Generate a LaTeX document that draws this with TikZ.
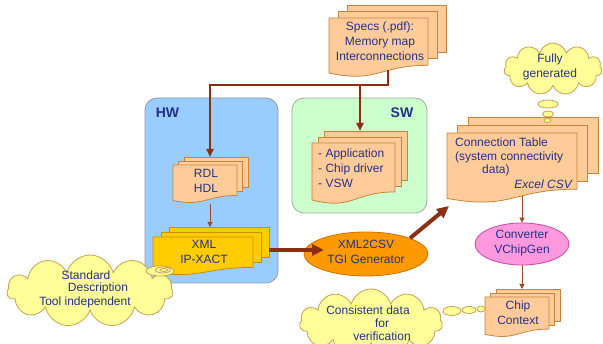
\documentclass[tikz,border=0pt]{standalone}
\usepackage{fontspec}
\setmainfont{Liberation Sans}
\usetikzlibrary{shapes.geometric,shapes.symbols,arrows.meta}
\definecolor{txtc}{HTML}{23308A}
\definecolor{docfill}{HTML}{FFCC99}
\definecolor{docline}{HTML}{C8843C}
\definecolor{xmlfill}{HTML}{FFCC00}
\definecolor{xmlline}{HTML}{D08C00}
\definecolor{hwfill}{HTML}{99CCFF}
\definecolor{hwline}{HTML}{8C9AAE}
\definecolor{swfill}{HTML}{CCFFCC}
\definecolor{swline}{HTML}{9AAE9A}
\definecolor{cloudfill}{HTML}{FFFF99}
\definecolor{cloudline}{HTML}{C8A050}
\definecolor{genfill}{HTML}{FF9900}
\definecolor{genline}{HTML}{D07000}
\definecolor{convfill}{HTML}{FF99DD}
\definecolor{convline}{HTML}{CC44AA}
\definecolor{treec}{HTML}{8B2E12}
\definecolor{thinc}{HTML}{9C4A2A}
\newcommand\mdoc[8]{%
 \path[#8] ({#2+2*#6},{#3-2*#7}) rectangle ++(#4,{0.802*#5});
 \path[#8] ({#2+#6},{#3-#7}) rectangle ++(#4,{0.802*#5});
 \path[#8] (#2,#3) -- ({#2+#4},#3) -- ({#2+#4},{#3+0.802*#5})
   .. controls ({#2+0.5*#4},{#3+0.802*#5}) and ({#2+0.5*#4},{#3+1.107*#5}) .. (#2,{#3+0.934*#5}) -- cycle;
 \coordinate (#1) at ({#2+0.5*#4},{#3+0.45*#5});
}
\tikzset{
 docsty/.style={draw=docline,fill=docfill,line width=0.8pt},
 xmlsty/.style={draw=xmlline,fill=xmlfill,line width=0.8pt},
 lbl/.style={text=txtc,align=center,inner sep=0,font=\fontsize{12}{15}\selectfont},
 lbll/.style={lbl,align=left,anchor=west},
 boxsty/.style={rectangle,rounded corners=12pt,inner sep=0,line width=0.8pt},
 cloudsty/.style={cloud,cloud puffs=11,cloud ignores aspect,draw=cloudline,fill=cloudfill,line width=0.8pt,inner sep=0},
 bub/.style={ellipse,draw=cloudline,fill=cloudfill,line width=0.8pt,inner sep=0},
 tree/.style={draw=treec,line width=2.5pt,-{Triangle[length=8pt,width=7pt]}},
 thin/.style={draw=thinc,line width=1pt,-{Triangle[length=5pt,width=5pt]}},
 thick/.style={draw=treec,line width=4pt,-{Triangle[length=12pt,width=11pt]}},
}
\begin{document}
\begin{tikzpicture}[x=1pt,y=-1pt]
\useasboundingbox (0,0) rectangle (603,344);
\fill[white] (0,0) rectangle (603,344);
% containers
\node[boxsty,draw=hwline,fill=hwfill,minimum width=133pt,minimum height=185pt] (hw) at (211.5,190.5) {};
\node[boxsty,draw=swline,fill=swfill,minimum width=135pt,minimum height=115pt] (sw) at (359.5,155.5) {};
\node[lbl,font=\fontsize{14}{16}\selectfont\bfseries] (hwl) at (167.5,113) {HW};
\node[lbl,font=\fontsize{14}{16}\selectfont\bfseries] (swl) at (402,113) {SW};
% documents
\mdoc{specs}{329}{18}{99}{59}{9}{6.5}{docsty}
\node[lbl] (specst) at (380,41) {Specs (.pdf):\\Memory map\\Interconnections};
\mdoc{rdl}{173}{165}{64}{38}{5.5}{4}{docsty}
\node[lbl] (rdlt) at (206,181) {RDL\\HDL};
\mdoc{xml}{153}{237}{100}{38}{8}{5}{xmlsty}
\node[lbl] (xmlt) at (204,252) {XML\\IP-XACT};
\mdoc{swdoc}{312}{143}{83}{61}{6}{6}{docsty}
\node[lbll] (swt) at (318,168) {- Application\\- Chip driver\\- VSW};
\mdoc{ct}{447}{133}{130}{70}{10.5}{8}{docsty}
\node[lbll] (ct1) at (455,142) {Connection Table};
\node[lbll] (ct2) at (455,157) {(system connectivity};
\node[lbll] (ct3) at (482,170) {data)};
\node[lbl,anchor=east,font=\fontsize{12}{15}\selectfont\itshape] (ct4) at (572,184) {Excel CSV};
\mdoc{chip}{485}{297}{64}{40}{5.5}{4}{docsty}
\node[lbl] (chipt) at (518,313) {Chip\\Context};
% ellipses
\node[ellipse,draw=genline,fill=genfill,line width=0.8pt,minimum width=124pt,minimum height=44pt,inner sep=0] (gen) at (366,254) {};
\node[lbl] (gent) at (366,252) {XML2CSV\\TGI Generator};
\node[ellipse,draw=convline,fill=convfill,line width=0.8pt,minimum width=94pt,minimum height=42pt,inner sep=0] (conv) at (522,244) {};
\node[lbl] (convt) at (522,243) {Converter\\VChipGen};
% clouds
\node[cloudsty,minimum width=98pt,minimum height=52pt] (c1) at (553,69) {};
\node[lbl] (c1t) at (550,67) {Fully\\generated};
\node[bub,minimum width=20pt,minimum height=8pt] (b11) at (548,104) {};
\node[bub,minimum width=11pt,minimum height=6pt] (b12) at (548,114) {};
\node[bub,minimum width=7pt,minimum height=4pt] (b13) at (547.5,120.5) {};
\node[cloudsty,minimum width=166pt,minimum height=72pt] (c2) at (90,291) {};
\node[lbl] (c2a) at (86,275) {Standard};
\node[lbl] (c2b) at (98,288) {Description};
\node[lbl] (c2c) at (85,302) {Tool independent};
\node[bub,minimum width=28pt,minimum height=10pt] (s1) at (160,271) {};
\node[bub,minimum width=15pt,minimum height=6pt] (s2) at (163,270) {};
\node[bub,minimum width=8pt,minimum height=3pt] (s3) at (164,270) {};
\node[cloudsty,minimum width=143pt,minimum height=68pt] (c3) at (371,323) {};
\node[lbl] (c3a) at (368,310) {Consistent data};
\node[lbl] (c3b) at (382,323) {for};
\node[lbl] (c3c) at (382,336) {verification};
\node[bub,minimum width=18pt,minimum height=9pt] (b31) at (452,311) {};
\node[bub,minimum width=14pt,minimum height=7pt] (b32) at (469,310) {};
\node[bub,minimum width=8pt,minimum height=6pt] (b33) at (481,309) {};
% connector points
\coordinate (specsB) at (388,70);
\coordinate (jR) at (388,85);
\coordinate (jSW) at (360,85);
\coordinate (rdlT) at (210,157);
\coordinate (swT) at (360,131);
\coordinate (rdlB) at (210,204);
\coordinate (xmlT) at (210,227);
\coordinate (xmlR) at (269,250);
\coordinate (genIn) at (324,250);
\coordinate (ctBL) at (449,206);
\coordinate (ctB) at (522,196);
\coordinate (chipT) at (522,289);
% connectors
\draw[tree] (specsB) -- (jR) -| (rdlT);
\draw[tree] (jSW) -- (swT);
\draw[thin] (rdlB) -- (xmlT);
\draw[thin] (ctB) -- (conv.north);
\draw[thin] (conv.south) -- (chipT);
\draw[thick] (xmlR) -- (genIn);
\draw[thick] (gen.north east) -- (ctBL);
\end{tikzpicture}
\end{document}
